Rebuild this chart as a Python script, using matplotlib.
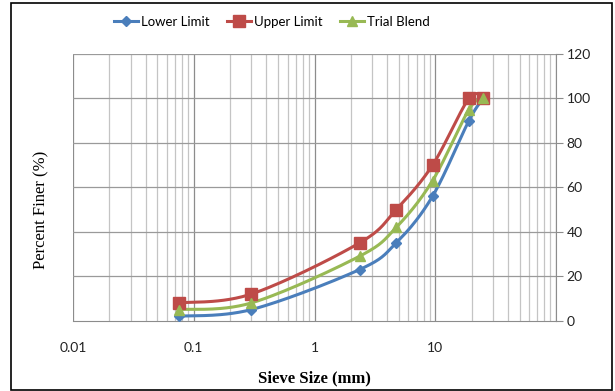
import numpy as np
import matplotlib
matplotlib.use("Agg")
import matplotlib.pyplot as plt
from matplotlib.patches import Rectangle
from matplotlib.ticker import FixedLocator

# Gradation data: sieve opening (mm) vs. percent passing
sieve_mm = [0.075, 0.3, 2.36, 4.75, 9.5, 19, 25]
lower_limit = [2, 5, 23, 35, 56, 90, 100]
upper_limit = [8, 12, 35, 50, 70, 100, 100]
trial_blend = [5, 8, 29, 42, 63, 95, 100]

series_names = ["Lower Limit", "Upper Limit", "Trial Blend"]
x_tick_labels = ["0.01", "0.1", "1", "10"]
y_ticks = [0, 20, 40, 60, 80, 100, 120]


def smooth(xv, yv, n=30):
    """Catmull-Rom curve through the points, built in log10(x) space."""
    px = np.log10(np.asarray(xv, float))
    py = np.asarray(yv, float)
    P = np.column_stack([px, py])
    P = np.vstack([P[0], P, P[-1]])
    out = []
    for i in range(1, len(P) - 2):
        p0, p1, p2, p3 = P[i - 1], P[i], P[i + 1], P[i + 2]
        c1 = p1 + (p2 - p0) / 6.0
        c2 = p2 - (p3 - p1) / 6.0
        t = np.linspace(0, 1, n)[:, None]
        seg = ((1 - t) ** 3) * p1 + 3 * ((1 - t) ** 2) * t * c1 + 3 * (1 - t) * t ** 2 * c2 + t ** 3 * p2
        out.append(seg if i == 1 else seg[1:])
    seg = np.vstack(out)
    return 10 ** seg[:, 0], seg[:, 1]


W, H = 615, 391
fig = plt.figure(figsize=(W / 100, H / 100), dpi=100)
ax = fig.add_axes([73 / W, 1 - 320.7 / H, (556 - 73) / W, (320.7 - 54) / H])

ax.set_xscale("log")
ax.set_xlim(0.01, 100)
ax.set_ylim(0, 120)

# Gridlines
major_x = [0.01, 0.1, 1, 10, 100]
minor_x = [m * 10.0 ** e for e in range(-2, 2) for m in range(2, 10)]
for xv in minor_x:
    ax.axvline(xv, color="#c4c4c4", lw=0.9, zorder=0)
for xv in major_x:
    ax.axvline(xv, color="#8c8c8c", lw=0.9, zorder=0)
for yv in y_ticks[1:]:
    ax.axhline(yv, color="#9a9a9a", lw=0.9, zorder=0)

colors = ["#4a7ebb", "#be4b48", "#98b954"]
markers = ["D", "s", "^"]
msizes = [5.5, 8, 7.5]
handles = []
for vals, c, m, ms, name in zip([lower_limit, upper_limit, trial_blend], colors, markers, msizes, series_names):
    sx, sy = smooth(sieve_mm, vals)
    ax.plot(sx, sy, color=c, lw=2.2, zorder=3, solid_capstyle="round")
    ax.plot(sieve_mm, vals, linestyle="none", marker=m, ms=ms, color=c,
            markeredgecolor=c, zorder=4)
    h, = ax.plot([], [], color=c, lw=2.2, marker=m, ms=ms, markeredgecolor=c, label=name)
    handles.append(h)

# Axes styling
for s in ["left", "top"]:
    ax.spines[s].set_visible(False)
ax.spines["bottom"].set_color("#8c8c8c")
ax.spines["right"].set_color("#8c8c8c")
ax.yaxis.tick_right()
ax.set_yticks(y_ticks)
ax.tick_params(axis="y", direction="out", length=5, color="#8c8c8c", pad=2.5,
               labelsize=10, labelcolor="#222222")
ax.xaxis.set_major_locator(FixedLocator([0.01, 0.1, 1, 10]))
ax.xaxis.set_minor_locator(FixedLocator([]))
ax.set_xticklabels(x_tick_labels)
ax.tick_params(axis="x", which="both", length=0, pad=15, labelsize=10, labelcolor="#222222")
for lbl in ax.get_xticklabels() + ax.get_yticklabels():
    lbl.set_family("Lato")

fig.text(314 / W, 1 - 378 / H, "Sieve Size (mm)", family="Liberation Serif", fontsize=12,
         fontweight="bold", ha="center", va="center")
fig.text(41 / W, 1 - 210 / H, "Percent Finer (%)", family="Liberation Serif",
         fontsize=12, rotation=90, ha="center", va="center")

leg = fig.legend(handles=handles, loc="center", ncol=3, frameon=False,
                 bbox_to_anchor=(272 / W, 1 - 22 / H), prop={"family": "Lato", "size": 9.5},
                 handlelength=1.8, handletextpad=0.25, columnspacing=1.3)

# Outer frame
fig.patches.append(Rectangle((11 / W, 1 / H), (612 - 11) / W, (389 - 2) / H,
                             transform=fig.transFigure, fill=False,
                             edgecolor="black", lw=1.2))

fig.savefig("out.png", dpi=100, facecolor="white")
